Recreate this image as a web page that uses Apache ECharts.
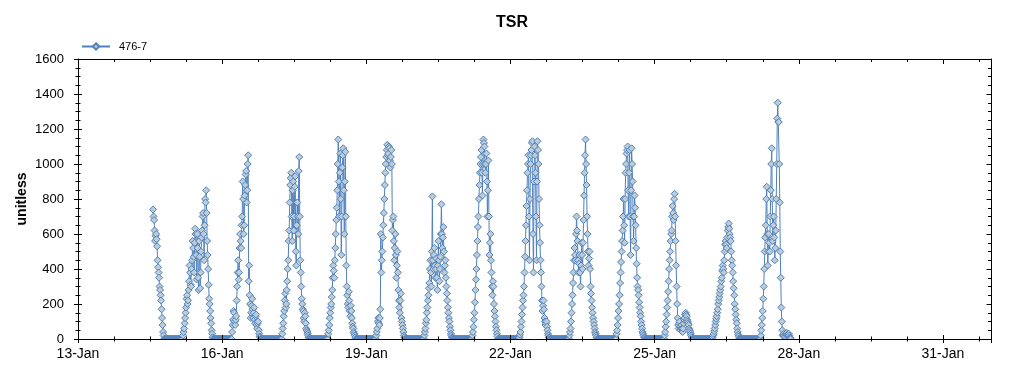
<!DOCTYPE html>
<html>
<head>
<meta charset="utf-8">
<script src="https://cdn.jsdelivr.net/npm/echarts@6/dist/echarts.min.js"></script>
<style>
html,body{margin:0;padding:0;background:#fff;}
#chart{width:1024px;height:375px;}
</style>
</head>
<body>
<div id="chart"></div>
<script>
// ---- Data (15-minute TSR readings, series "476-7") ----
const seriesName = '476-7';
const chartTitle = 'TSR';
const yAxisName = 'unitless';
const xTickLabels = ['13-Jan','16-Jan','19-Jan','22-Jan','25-Jan','28-Jan','31-Jan'];
const stepHours = 0.25;

// 14-Jan starts at 13:30, all other days at 00:00
const d14 = [740,700,680,620,560,590,600,570,530,450,410,380,350,300,280,250,220,170,120,80,40,20,0,
  0,0,0,0,0,0,0,0,0,0,0,0,0,0,0,0,0,0,0];
const d15 = [0,0,0,0,0,0,0,0,0,0,0,0,0,0,0,0,0,0,
  20,40,60,90,120,150,180,230,250,200,220,280,330,420,380,310,300,400,450,560,520,470,380,550,630,600,480,340,600,520,350,280,560,470,290,380,500,580,620,700,720,600,450,650,800,780,850,720,560,480,400,310,230,200,160,120,90,50,30,10,
  0,0,0,0,0,0,0,0,0,0,0,0,0,0,0,0,0,0];
const d16 = [0,0,0,0,0,0,0,0,0,0,0,0,0,0,0,0,0,0,0,0,
  40,80,110,160,150,100,80,110,130,220,300,380,450,340,380,520,600,560,520,650,700,900,800,600,650,820,880,940,960,780,850,1000,1050,330,420,250,200,120,150,190,230,170,120,150,180,110,90,130,140,80,60,90,100,50,30,15,10,0,
  0,0,0,0,0,0,0,0,0,0,0,0,0,0,0,0,0,0];
const d17 = [0,0,0,0,0,0,0,0,0,0,0,0,0,0,0,0,0,0,0,0,0,0,0,0,
  30,60,90,130,160,220,260,180,200,280,330,400,450,560,620,780,880,920,950,700,560,850,900,620,700,870,930,500,420,650,780,700,600,960,1040,700,450,380,300,230,200,170,160,120,100,150,130,90,60,50,40,30,20,10,5,0,
  0,0,0,0,0,0,0,0,0,0,0,0,0,0,0,0];
const d18 = [0,0,0,0,0,0,0,0,0,0,0,0,0,0,0,0,0,0,0,0,
  30,50,80,120,150,180,200,240,280,350,420,390,350,450,520,600,680,750,850,1000,1140,900,700,950,1060,800,480,700,980,1050,1090,850,600,900,1070,700,420,300,250,200,180,270,220,160,130,190,160,120,90,70,60,40,30,20,10,0,
  0,0,0,0,0,0,0,0,0,0,0,0,0,0,0,0,0,0,0,0];
const d19 = [0,0,0,0,0,0,0,0,0,0,0,0,0,0,0,0,0,0,0,0,
  20,40,60,100,120,90,80,120,170,600,380,450,500,580,650,720,800,880,950,1000,1040,1080,1110,1050,1060,1100,1090,1020,980,1040,1080,1000,620,680,700,560,450,520,600,480,350,420,500,380,280,220,180,150,220,260,120,100,80,60,40,20,10,0,
  0,0,0,0,0,0,0,0,0,0,0,0,0,0,0,0,0,0];
const d20 = [0,0,0,0,0,0,0,0,0,0,0,0,0,0,0,0,0,0,0,0,
  20,40,60,90,110,150,180,220,250,290,320,400,450,380,300,500,815,450,400,480,520,420,350,400,460,350,280,420,560,450,330,400,470,600,770,600,520,580,640,500,380,420,450,350,300,260,220,180,150,120,100,70,50,30,20,10,5,0,
  0,0,0,0,0,0,0,0,0,0,0,0,0,0,0,0,0,0];
const d21 = [0,0,0,0,0,0,0,0,0,0,0,0,0,0,0,0,0,0,0,0,
  20,40,70,110,150,210,280,340,400,480,560,640,700,800,880,950,1000,1040,1080,950,820,1000,1140,1120,1100,1000,950,1000,1060,900,700,850,1020,700,480,550,600,450,380,300,250,330,300,200,160,130,100,70,50,30,15,0,
  0,0,0,0,0,0,0,0,0,0,0,0,0,0,0,0,0,0,0,0,0,0,0,0];
const d22 = [0,0,0,0,0,0,0,0,0,0,0,0,0,0,0,0,0,0,
  10,25,40,70,100,140,180,220,250,300,380,470,560,650,760,850,950,1000,1050,700,450,800,1000,1050,1080,1120,1130,600,380,900,1100,1050,950,700,450,900,1130,1080,1000,800,650,550,450,380,300,220,160,190,220,170,120,100,80,90,100,70,50,30,20,10,5,0,
  0,0,0,0,0,0,0,0,0,0,0,0,0,0,0,0];
const d23 = [0,0,0,0,0,0,0,0,0,0,0,0,0,0,0,0,0,0,0,0,0,0,
  20,40,60,100,150,200,250,320,380,450,520,480,450,600,700,620,560,450,380,430,480,380,300,420,550,480,400,550,680,820,950,1050,1140,1000,880,700,600,500,420,460,500,400,300,260,220,180,150,120,100,80,60,40,30,20,10,0,
  0,0,0,0,0,0,0,0,0,0,0,0,0,0,0,0,0,0];
const d24 = [0,0,0,0,0,0,0,0,0,0,0,0,0,0,0,0,0,0,0,0,
  30,50,80,120,160,200,250,320,380,440,500,560,620,700,800,650,550,800,950,1000,1060,1080,1100,850,700,950,1080,700,480,850,1090,1000,900,700,560,700,820,750,650,520,430,350,300,280,250,210,180,150,130,100,80,60,40,30,20,10,5,0,
  0,0,0,0,0,0,0,0,0,0,0,0,0,0,0,0,0,0];
const d25 = [0,0,0,0,0,0,0,0,0,0,0,0,0,0,0,0,0,0,0,0,
  20,40,70,100,140,180,220,270,330,400,450,500,560,600,620,700,760,720,680,800,830,700,560,420,300,200,120,80,60,90,100,70,50,60,80,60,40,60,90,110,120,140,150,140,130,110,100,90,80,60,50,40,30,20,10,0,
  0,0,0,0,0,0,0,0,0,0,0,0,0,0,0,0,0,0,0,0];
const d26 = [0,0,0,0,0,0,0,0,0,0,0,0,0,0,0,0,0,0,0,0,
  10,20,30,45,60,80,100,115,130,150,170,200,220,240,260,280,300,330,350,390,420,400,380,450,500,540,560,540,520,580,620,640,660,630,600,580,560,500,450,420,380,330,290,250,200,170,140,110,90,60,40,25,15,5,
  0,0,0,0,0,0,0,0,0,0,0,0,0,0,0,0,0,0,0,0,0,0];
const d27 = [0,0,0,0,0,0,0,0,0,0,0,0,0,0,0,0,0,0,0,0,
  20,50,80,120,160,230,300,400,500,580,650,800,870,600,420,500,600,550,500,700,850,1000,1090,800,560,650,700,580,450,520,620,800,1000,1260,1350,1240,1240,1000,780,500,350,180,100,50,20,25,30,20,10,15,25,30,35,25,20,25,30,20,10,5,0];

const days = [
  {date:14, startHour:13.5, vals:d14},
  {date:15, startHour:0, vals:d15},
  {date:16, startHour:0, vals:d16},
  {date:17, startHour:0, vals:d17},
  {date:18, startHour:0, vals:d18},
  {date:19, startHour:0, vals:d19},
  {date:20, startHour:0, vals:d20},
  {date:21, startHour:0, vals:d21},
  {date:22, startHour:0, vals:d22},
  {date:23, startHour:0, vals:d23},
  {date:24, startHour:0, vals:d24},
  {date:25, startHour:0, vals:d25},
  {date:26, startHour:0, vals:d26},
  {date:27, startHour:0, vals:d27}
];
const firstDate = 13; // x = days since 13-Jan 00:00

const points = [];
days.forEach(function(d){
  d.vals.forEach(function(v,i){
    points.push([(d.date - firstDate) + (d.startHour + i*stepHours)/24, v]);
  });
});

// ---- Chart ----
const FONT = "'Liberation Sans', Arial, sans-serif";
const LINE = '#4F81BD';
const FILL = '#BDCDD8';

function xAx(pos, interval, tickLen, inside, extra){
  return Object.assign({
    type:'value', position:pos, min:0, max:19, interval:interval,
    axisLine:{show:false, onZero:false},
    axisTick:{show:true, inside:inside, length:tickLen, lineStyle:{color:'#000', width:1}},
    axisLabel:{show:false}, splitLine:{show:false}, z:10
  }, extra||{});
}
function yAx(pos, tickLen, minorLen, inside, extra){
  return Object.assign({
    type:'value', position:pos, min:0, max:1600, interval:200,
    axisLine:{show:false, onZero:false},
    axisTick:{show:true, inside:inside, length:tickLen, lineStyle:{color:'#000', width:1}},
    minorTick:{show:true, splitNumber:4, length:minorLen, lineStyle:{color:'#000', width:1}},
    axisLabel:{show:false}, splitLine:{show:false}, z:10
  }, extra||{});
}

const chart = echarts.init(document.getElementById('chart'), null, {renderer:'canvas'});
chart.setOption({
  animation:false,
  backgroundColor:'#fff',
  title:{
    text:chartTitle, left:'center', top:10,
    textStyle:{fontFamily:FONT, fontSize:16, fontWeight:'bold', color:'#000'}
  },
  legend:{
    left:81, top:41, padding:0, itemWidth:28, itemHeight:8,
    data:[seriesName],
    textStyle:{fontFamily:FONT, fontSize:11, color:'#000', padding:[0,0,0,4]}
  },
  grid:{left:78, right:33, top:59, bottom:36, containLabel:false},
  graphic:[{
    type:'rect', z:5, silent:true,
    shape:{x:0, y:339.5, width:1024, height:40},
    style:{fill:'#fff'}
  }],
  xAxis:[
    xAx('bottom', 3, 4, false, {
      axisLine:{show:true, onZero:false, lineStyle:{color:'#000', width:1}},
      axisLabel:{show:true, margin:8, fontFamily:FONT, fontSize:14, color:'#000',
        formatter:function(v){
          const k = v/3;
          return Math.abs(k - Math.round(k)) < 1e-6 ? (xTickLabels[Math.round(k)] || '') : '';
        }}
    }),
    xAx('bottom', 3, 4, true),
    xAx('bottom', 0.75, 2.5, false),
    xAx('bottom', 0.75, 2.5, true),
    xAx('top', 3, 5, true, {axisLine:{show:true, onZero:false, lineStyle:{color:'#000', width:1}}}),
    xAx('top', 0.75, 3, true)
  ],
  yAxis:[
    yAx('left', 4, 2.5, false, {
      axisLine:{show:true, onZero:false, lineStyle:{color:'#000', width:1}},
      axisLabel:{show:true, margin:14, fontFamily:FONT, fontSize:13, color:'#000',
        formatter:function(v){ return String(v); }},
      name:yAxisName, nameLocation:'middle', nameGap:49, nameRotate:90, nameMoveOverlap:false,
      nameTextStyle:{fontFamily:FONT, fontSize:14, fontWeight:'bold', color:'#000'}
    }),
    yAx('left', 4, 2.5, true),
    yAx('right', 4.5, 3, true, {axisLine:{show:true, onZero:false, lineStyle:{color:'#000', width:1}}})
  ],
  series:[{
    name:seriesName, type:'line', xAxisIndex:0, yAxisIndex:0,
    data:points,
    symbol:'diamond', symbolSize:7, showSymbol:true,
    lineStyle:{color:LINE, width:1},
    itemStyle:{color:FILL, borderColor:LINE, borderWidth:1},
    emphasis:{disabled:true},
    clip:true
  }]
});
</script>
</body>
</html>
